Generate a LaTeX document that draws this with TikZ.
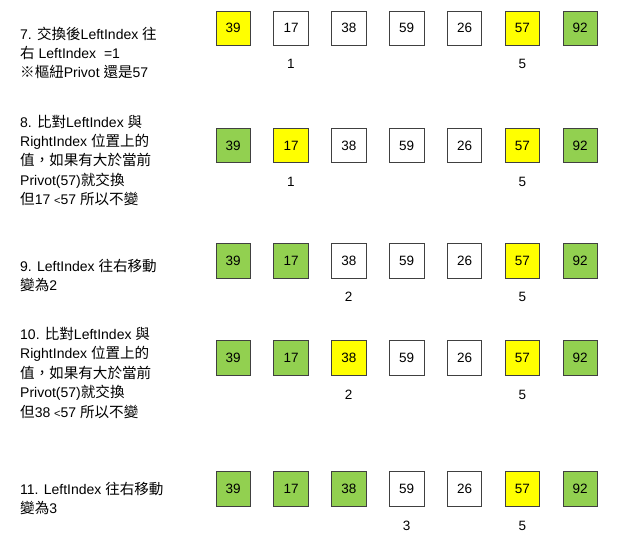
\documentclass[tikz,border=0pt]{standalone}
\usepackage{fontspec}
\setmainfont{Liberation Sans}
\newfontfamily\cjk[Scale=1.04]{Noto Sans CJK TC}
\newcommand\zh[1]{{\cjk #1}}
\definecolor{cellgreen}{HTML}{92D050}
\definecolor{cellyellow}{HTML}{FFFF00}
\definecolor{cellborder}{HTML}{404040}
\begin{document}
\begin{tikzpicture}[x=1pt,y=-1pt,
  cell/.style={draw=cellborder, line width=0.8pt, minimum size=34.5pt, inner sep=0pt,
    font=\fontsize{13.5}{16}\selectfont},
  idx/.style={anchor=base, inner sep=0pt, font=\fontsize{13.5}{16}\selectfont},
  txt/.style={anchor=base west, inner sep=0pt, font=\fontsize{14}{16}\selectfont}]
\useasboundingbox[fill=white] (0,0) rectangle (621,555);

% ---------- row 1 ----------
\foreach \v/\c [count=\i from 0] in {39/cellyellow,17/white,38/white,59/white,26/white,57/cellyellow,92/cellgreen}
  \node[cell, fill=\c] (a\i) at ({233.2+57.83*\i},28.2) {\v};
\node[idx] (ai1) at (290.9,68.3) {1};
\node[idx] (ai5) at (522.4,68.3) {5};
\node[txt] (at1) at (20,39.3) {7. \zh{交換後}LeftIndex \zh{往}};
\node[txt] (at2) at (20,58.6) {\zh{右} LeftIndex \ =1};
\node[txt] (at3) at (20,77.9) {\zh{※樞紐}Privot \zh{還是}57};

% ---------- row 2 ----------
\foreach \v/\c [count=\i from 0] in {39/cellgreen,17/cellyellow,38/white,59/white,26/white,57/cellyellow,92/cellgreen}
  \node[cell, fill=\c] (b\i) at ({233.2+57.83*\i},145.5) {\v};
\node[idx] (bi1) at (290.9,186.7) {1};
\node[idx] (bi5) at (522.4,186.7) {5};
\node[txt] (bt1) at (20,127.2) {8. \zh{比對}LeftIndex \zh{與}};
\node[txt] (bt2) at (20,146.5) {RightIndex \zh{位置上的}};
\node[txt] (bt3) at (20,165.8) {\zh{值，如果有大於當前}};
\node[txt] (bt4) at (20,185.1) {Privot(57)\zh{就交換}};
\node[txt] (bt5) at (20,204.4) {\zh{但}17 {\fontsize{11}{12}\selectfont<}57 \zh{所以不變}};

% ---------- row 3 ----------
\foreach \v/\c [count=\i from 0] in {39/cellgreen,17/cellgreen,38/white,59/white,26/white,57/cellyellow,92/cellgreen}
  \node[cell, fill=\c] (c\i) at ({233.2+57.83*\i},260.7) {\v};
\node[idx] (ci2) at (348.7,301.7) {2};
\node[idx] (ci5) at (522.4,301.7) {5};
\node[txt] (ct1) at (20,271.6) {9. LeftIndex \zh{往右移動}};
\node[txt] (ct2) at (20,290.9) {\zh{變為}2};

% ---------- row 4 ----------
\foreach \v/\c [count=\i from 0] in {39/cellgreen,17/cellgreen,38/cellyellow,59/white,26/white,57/cellyellow,92/cellgreen}
  \node[cell, fill=\c] (d\i) at ({233.2+57.83*\i},357.8) {\v};
\node[idx] (di2) at (348.7,399) {2};
\node[idx] (di5) at (522.4,399) {5};
\node[txt] (dt1) at (20,339) {10. \zh{比對}LeftIndex \zh{與}};
\node[txt] (dt2) at (20,358.5) {RightIndex \zh{位置上的}};
\node[txt] (dt3) at (20,378) {\zh{值，如果有大於當前}};
\node[txt] (dt4) at (20,397.5) {Privot(57)\zh{就交換}};
\node[txt] (dt5) at (20,417) {\zh{但}38 {\fontsize{11}{12}\selectfont<}57 \zh{所以不變}};

% ---------- row 5 ----------
\foreach \v/\c [count=\i from 0] in {39/cellgreen,17/cellgreen,38/cellgreen,59/white,26/white,57/cellyellow,92/cellgreen}
  \node[cell, fill=\c] (e\i) at ({233.2+57.83*\i},489) {\v};
\node[idx] (ei3) at (406.5,530) {3};
\node[idx] (ei5) at (522.4,530) {5};
\node[txt] (et1) at (20,494) {11. LeftIndex \zh{往右移動}};
\node[txt] (et2) at (20,513.3) {\zh{變為}3};
\end{tikzpicture}
\end{document}
